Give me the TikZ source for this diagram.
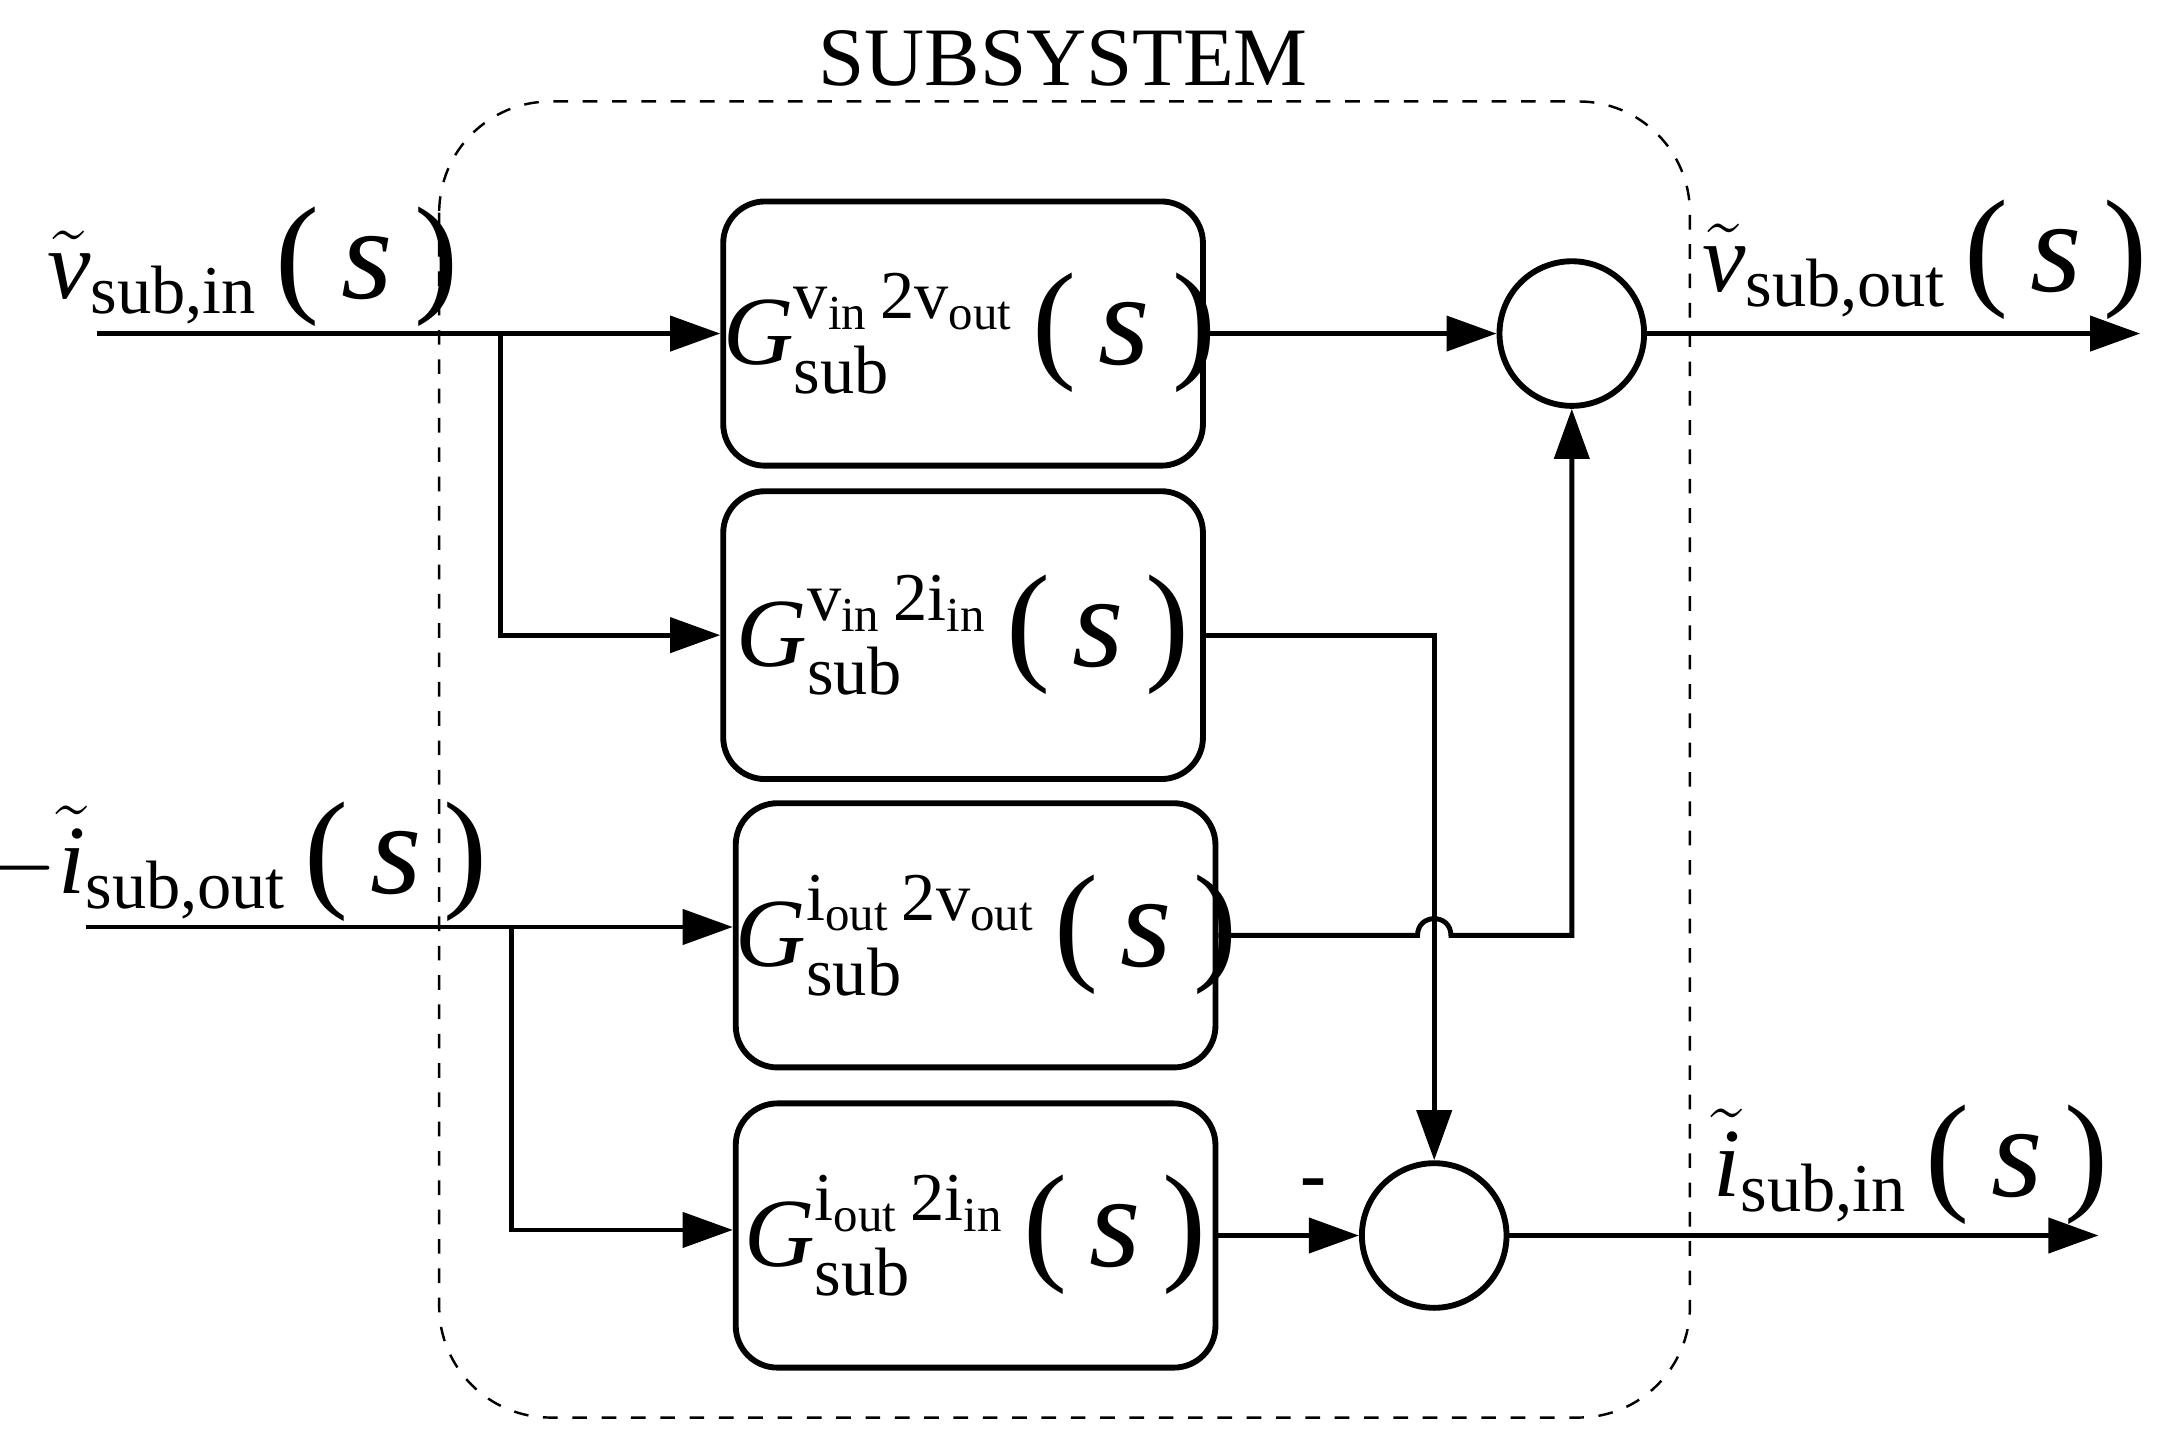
\documentclass[tikz,border=0pt]{standalone}
\usepackage{amsmath}
\usepackage{fontspec}
\setmainfont{Liberation Serif}
\usetikzlibrary{arrows.meta}
\newcommand{\ti}[1]{\textit{#1}}
\newcommand{\tr}[1]{\text{#1}}
\newcommand{\ps}{\,\text{\fontsize{27}{27}\selectfont(\,\textit{s}\,)}}
\begin{document}
\begin{tikzpicture}[x=0.01cm,y=-0.01cm,
  blk/.style={draw,line width=1.2pt,rounded corners=0.3cm,text width=3.45cm,align=center,inner sep=0pt,minimum height=1.9cm,font=\fontsize{20}{24}\selectfont},
  sum/.style={draw,circle,line width=1.2pt,minimum size=1.04cm,inner sep=0pt},
  ln/.style={line width=1pt},
  ar/.style={ln,-{Triangle[length=0.36cm,width=0.25cm]}},
  lab/.style={font=\fontsize{20}{24}\selectfont,inner sep=0pt}]
\useasboundingbox (0,0) rectangle (1560,1035);
\draw[dashed,line width=0.5pt,rounded corners=0.8cm] (316,73) rectangle (1216,1020);
\node[lab,font=\fontsize{17}{20}\selectfont] (title) at (765,42) {SUBSYSTEM};
\node[blk] (b1) at (693,240) {$\ti{G}^{\tr{v}_{\tr{in}}\,\tr{2v}_{\tr{out}}}_{\tr{sub}}\ps$};
\node[blk,minimum height=2.07cm] (b2) at (693,457) {$\ti{G}^{\tr{v}_{\tr{in}}\,\tr{2i}_{\tr{in}}}_{\tr{sub}}\ps$};
\node[blk] (b3) at (702,673) {$\ti{G}^{\tr{i}_{\tr{out}}\,\tr{2v}_{\tr{out}}}_{\tr{sub}}\ps$};
\node[blk] (b4) at (702,889) {$\ti{G}^{\tr{i}_{\tr{out}}\,\tr{2i}_{\tr{in}}}_{\tr{sub}}\ps$};
\node[sum] (s1) at (1131,240) {};
\node[sum] (s2) at (1032,889) {};
\coordinate (vin) at (70,240);
\coordinate (iin) at (62,667);
\coordinate (vout) at (1540,240);
\coordinate (iout) at (1510,889);
\draw[ar] (vin) -- (b1.west);
\draw[ar] (360,240) -- (360,457) -- (b2.west);
\draw[ar] (iin) -- (b3.west |- 0,667);
\draw[ar] (368,667) -- (368,885) -- (b4.west |- 0,885);
\draw[ar] (b1.east) -- (s1.west);
\draw[ar] (b2.east) -- (1032,457) -- (s2.north);
\draw[ar] (b3.east) -- (1020,673) .. controls (1020,657) and (1044,657) .. (1044,673) -- (1131,673) -- (s1.south);
\draw[ar] (b4.east) -- (s2.west);
\node[lab,font=\fontsize{16}{18}\selectfont\bfseries] (minus) at (945,856) {-};
\draw[ar] (s1.east) -- (vout);
\draw[ar] (s2.east) -- (iout);
\node[lab] (lvin) at (182,192) {$\tilde{\ti{v}}_{\tr{sub,in}}\ps$};
\node[lab] (liout) at (168,620) {$-\tilde{\ti{i}}_{\tr{sub,out}}\ps$};
\node[lab] (lvout) at (1385,187) {$\tilde{\ti{v}}_{\tr{sub,out}}\ps$};
\node[lab] (liin) at (1375,838) {$\tilde{\ti{i}}_{\tr{sub,in}}\ps$};
\end{tikzpicture}
\end{document}
